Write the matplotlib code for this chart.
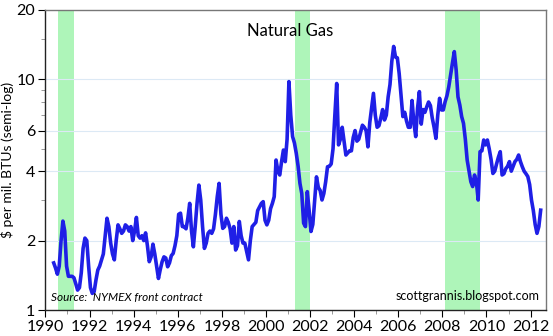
import numpy as np
import matplotlib.pyplot as plt
from matplotlib.ticker import FixedLocator, NullFormatter, MultipleLocator

# monthly NYMEX front-month natural gas, $/mmBtu, starting May 1990
prices = [
    # 1990 (May-Dec)
    1.60, 1.52, 1.43, 1.55, 2.00, 2.43, 2.20, 1.55,
    # 1991
    1.40, 1.40, 1.40, 1.38, 1.30, 1.22, 1.25, 1.45, 1.85, 2.05, 2.00, 1.55,
    # 1992
    1.25, 1.18, 1.20, 1.35, 1.49, 1.55, 1.65, 1.75, 2.10, 2.50, 2.30, 1.95,
    # 1993
    1.75, 1.65, 2.00, 2.34, 2.25, 2.15, 2.20, 2.34, 2.30, 2.20, 2.30, 2.00,
    # 1994
    2.20, 2.52, 2.10, 2.05, 2.10, 2.00, 2.16, 1.90, 1.62, 1.70, 1.93, 1.75,
    # 1995
    1.55, 1.37, 1.50, 1.62, 1.70, 1.68, 1.54, 1.60, 1.72, 1.76, 1.90, 2.10,
    # 1996
    2.60, 2.63, 2.30, 2.30, 2.25, 2.50, 2.90, 2.20, 1.88, 2.30, 2.90, 3.48,
    # 1997
    3.00, 2.30, 1.85, 1.95, 2.15, 2.20, 2.15, 2.25, 2.60, 3.10, 3.54, 2.60,
    # 1998
    2.26, 2.30, 2.50, 2.40, 2.25, 1.95, 2.30, 1.82, 1.90, 2.42, 2.10, 1.95,
    # 1999
    1.95, 1.79, 1.65, 2.00, 2.30, 2.35, 2.40, 2.70, 2.80, 2.90, 2.95, 2.45,
    # 2000
    2.34, 2.45, 2.75, 2.90, 3.10, 4.47, 4.00, 3.85, 4.40, 4.94, 4.40, 5.50,
    # 2001
    9.78, 7.00, 5.65, 5.30, 4.78, 4.20, 3.54, 3.20, 2.38, 2.30, 3.26, 2.70,
    # 2002
    2.19, 2.35, 3.00, 3.78, 3.40, 3.30, 3.00, 3.20, 3.60, 4.18, 4.20, 4.30,
    # 2003
    5.00, 7.00, 9.60, 5.20, 5.50, 6.20, 5.40, 4.70, 4.80, 4.90, 4.90, 5.60,
    # 2004
    6.00, 5.40, 5.50, 5.90, 6.33, 6.20, 6.00, 5.10, 6.50, 7.50, 8.70, 7.00,
    # 2005
    6.20, 6.30, 6.80, 7.40, 6.67, 7.00, 8.40, 9.50, 12.0, 13.9, 12.5, 12.4,
    # 2006
    10.6, 8.50, 6.90, 7.20, 6.60, 6.20, 6.20, 8.10, 6.50, 5.65, 7.50, 8.85,
    # 2007
    6.40, 7.40, 7.20, 7.60, 7.98, 7.70, 6.80, 6.20, 5.55, 7.00, 8.28, 7.37,
    # 2008
    7.37, 8.00, 8.50, 9.30, 10.5, 11.8, 13.2, 11.0, 8.40, 7.74, 6.90, 6.45,
    # 2009
    5.50, 4.47, 4.00, 3.60, 3.43, 3.85, 3.60, 3.00, 4.86, 4.90, 5.46, 5.20,
    # 2010
    5.46, 5.00, 4.50, 3.91, 4.00, 4.30, 4.60, 4.86, 3.85, 3.90, 4.10, 4.20,
    # 2011
    4.40, 4.00, 4.20, 4.40, 4.50, 4.70, 4.40, 4.18, 4.00, 3.90, 3.79, 3.50,
    # 2012
    3.00, 2.70, 2.35, 2.15, 2.30, 2.71,
]
start_year = 1990.375

recessions = [(1990.57, 1991.28), (2001.33, 2002.02), (2008.14, 2009.72)]

y_ticks = [1, 2, 4, 6, 10, 20]
x_ticks = list(range(1990, 2013, 2))

years = start_year + np.arange(len(prices)) / 12.0

fig = plt.figure(figsize=(5.53, 3.36), dpi=100)
ax = fig.add_axes([45 / 553, 26 / 336, 501 / 553, 300 / 336])

for a, b in recessions:
    ax.axvspan(a, b, color='#aef5b9', lw=0, zorder=0)

for v in [2, 4, 6, 10]:
    ax.axhline(v, color='#dce9f5', lw=0.8, zorder=1)

ax.plot(years, prices, color='#1f1fe6', lw=2.6, zorder=3, solid_joinstyle='round')

ax.set_yscale('log')
ax.set_ylim(1, 20)
ax.set_xlim(1989.98, 2012.7)

ax.yaxis.set_major_locator(FixedLocator(y_ticks))
ax.yaxis.set_major_formatter(plt.FixedFormatter([str(v) for v in y_ticks]))
ax.yaxis.set_minor_locator(FixedLocator([3, 5, 7, 8, 9, 15]))
ax.yaxis.set_minor_formatter(NullFormatter())
ax.xaxis.set_major_locator(FixedLocator(x_ticks))
ax.xaxis.set_minor_locator(MultipleLocator(1))

font = 'Lato'
ax.tick_params(axis='both', which='major', labelsize=11.5, length=5, width=0.8,
               direction='out', pad=2)
ax.tick_params(axis='both', which='minor', length=3, width=0.6, color='#888888')
for lab in ax.get_xticklabels() + ax.get_yticklabels():
    lab.set_family(font)

for s in ['top', 'right']:
    ax.spines[s].set_color('#777777')
    ax.spines[s].set_linewidth(1.0)
for s in ['left', 'bottom']:
    ax.spines[s].set_color('#222222')
    ax.spines[s].set_linewidth(1.0)

ax.set_ylabel('$ per mil. BTUs (semi-log)', family=font, fontsize=10)
ax.yaxis.set_label_coords(-0.062, 0.5)
ax.text(0.49, 0.93, 'Natural Gas', transform=ax.transAxes, ha='center', va='center',
        family=font, fontsize=12)
ax.text(0.012, 0.025, 'Source:  NYMEX front contract', transform=ax.transAxes,
        ha='left', va='bottom', family=font, style='italic', fontsize=8.5)
ax.text(0.988, 0.025, 'scottgrannis.blogspot.com', transform=ax.transAxes,
        ha='right', va='bottom', family=font, fontsize=9)

fig.savefig('out.png', dpi=100)
